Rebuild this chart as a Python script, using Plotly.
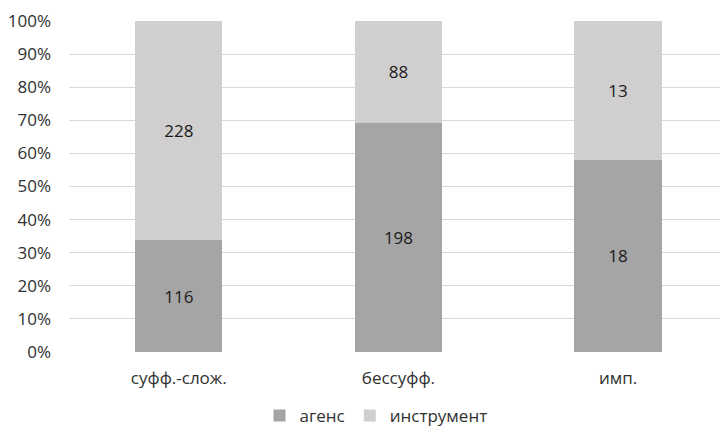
import plotly.graph_objects as go

categories = ["суфф.-слож.", "бессуфф.", "имп."]
agens = [116, 198, 18]
instrument = [228, 88, 13]
series_names = ["агенс", "инструмент"]
y_ticks = [0, 10, 20, 30, 40, 50, 60, 70, 80, 90, 100]
y_tick_labels = [f"{v}%" for v in y_ticks]

FONT = "Open Sans"
TXT = "#303030"
FS = 17

fig = go.Figure()
fig.add_trace(go.Bar(
    x=categories, y=agens, name=series_names[0],
    marker=dict(color="#a5a5a5", line=dict(width=0)),
    text=agens, texttemplate="%{text}", textposition="inside",
    insidetextanchor="middle", textangle=0,
    textfont=dict(family=FONT, size=FS, color="#1a1a1a"),
))
fig.add_trace(go.Bar(
    x=categories, y=instrument, name=series_names[1],
    marker=dict(color="#d0cece", line=dict(width=0)),
    text=instrument, texttemplate="%{text}", textposition="inside",
    insidetextanchor="middle", textangle=0,
    textfont=dict(family=FONT, size=FS, color="#1a1a1a"),
))

fig.update_layout(
    width=720, height=429,
    barmode="stack", barnorm="percent", bargap=0.603,
    paper_bgcolor="white", plot_bgcolor="white",
    font=dict(family=FONT, size=FS, color=TXT),
    margin=dict(l=69, r=0, t=21, b=77, autoexpand=False),
    showlegend=True,
    legend=dict(
        orientation="h", xref="container", yref="paper",
        x=376 / 720, xanchor="center", y=-82 / 331, yanchor="bottom",
        font=dict(family=FONT, size=FS, color=TXT),
        traceorder="normal",
    ),
    uniformtext=dict(minsize=FS, mode="show"),
)
fig.update_xaxes(
    range=[-0.5, 2.464], showgrid=False, showline=False, zeroline=False,
    ticks="", ticklabelstandoff=14, automargin=False,
    tickfont=dict(family=FONT, size=FS, color=TXT),
)
fig.update_yaxes(
    range=[0, 100], tickvals=y_ticks, ticktext=y_tick_labels,
    showgrid=True, gridcolor="#d9d9d9", gridwidth=1.3,
    zeroline=False, showline=False, ticks="", ticklabelstandoff=17,
    automargin=False,
    tickfont=dict(family=FONT, size=FS, color=TXT),
)

fig.write_html(
    "out.html",
    config={"displayModeBar": False},
    post_script="document.body.style.margin='0';document.body.style.overflow='hidden';",
)
